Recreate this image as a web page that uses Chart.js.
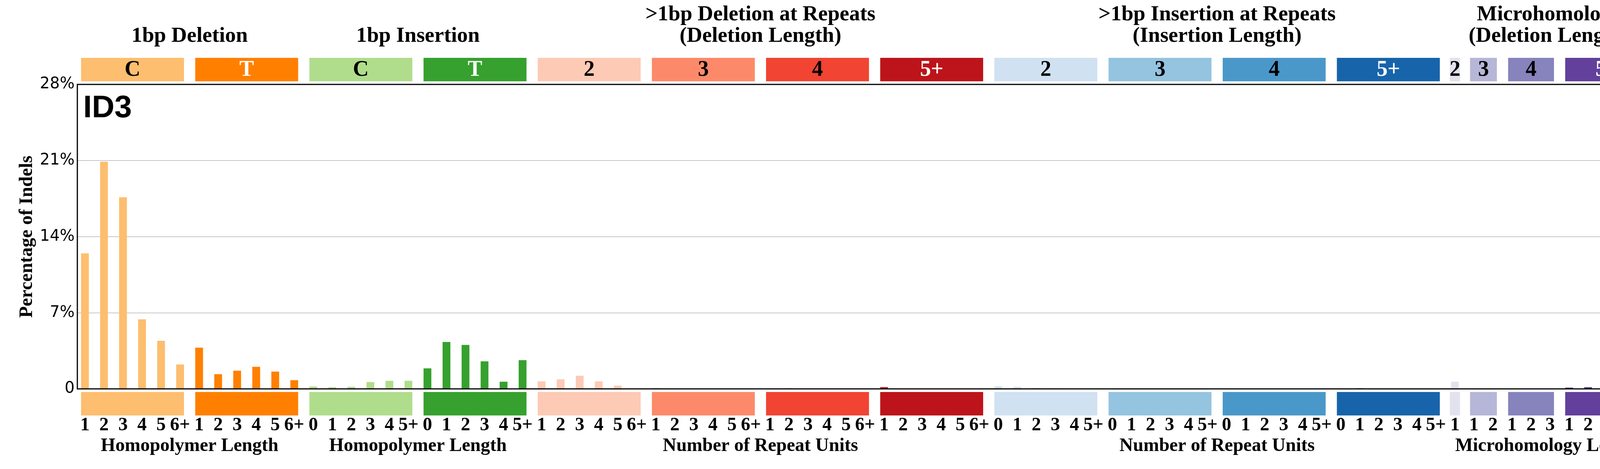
<!DOCTYPE html>
<html>
<head>
<meta charset="utf-8">
<script src="https://cdn.jsdelivr.net/npm/chart.js@4"></script>
<style>
	html, body { margin: 0; background: #fff; overflow: hidden; }
	canvas { display: block; }
</style>
</head>
<body>
<canvas id="chart" width="4393" height="1200" style="width:4393px;height:1200px"></canvas>
<script>
// values in % of indels, one small array per context group
const delC = [12.46, 20.89, 17.62, 6.40, 4.42, 2.25];
const delT = [3.79, 1.35, 1.67, 2.03, 1.59, 0.80];
const insC = [0.22, 0.16, 0.19, 0.63, 0.74, 0.74];
const insT = [1.89, 4.31, 4.04, 2.53, 0.66, 2.64];
const delRep2 = [0.69, 0.88, 1.21, 0.69, 0.30, 0];
const delRep3 = [0.06, 0.02, 0, 0, 0, 0];
const delRep4 = [0, 0.05, 0, 0, 0, 0];
const delRep5 = [0.16, 0, 0, 0, 0, 0];
const insRep2 = [0.23, 0.19, 0.08, 0.05, 0.02, 0];
const insRep3 = [0, 0.03, 0, 0, 0, 0];
const insRep4 = [0, 0, 0, 0, 0, 0];
const insRep5 = [0, 0.05, 0, 0, 0, 0];
const mh2 = [0.66];
const mh3 = [0.02, 0.02];
const mh4 = [0, 0.02, 0];
const mh5 = [0.12, 0.16, 0.05, 0.05, 0.02];

const groupValues = [delC, delT, insC, insT, delRep2, delRep3, delRep4, delRep5,
	insRep2, insRep3, insRep4, insRep5, mh2, mh3, mh4, mh5];

const groupNames = ["C", "T", "C", "T", "2", "3", "4", "5+", "2", "3", "4", "5+", "2", "3", "4", "5+"];
const groupColors = ["#FDBE6F", "#FF8001", "#B0DD8B", "#36A12E",
	"#FDCAB5", "#FC8A6A", "#F14432", "#BC141A",
	"#D0E1F2", "#94C4DF", "#4A98C9", "#1764AB",
	"#E2E2EF", "#B6B6D8", "#8683BD", "#62409B"];
const groupTextColors = ["#000", "#fff", "#000", "#fff",
	"#000", "#000", "#000", "#fff",
	"#000", "#000", "#000", "#fff",
	"#000", "#000", "#000", "#fff"];

const tickDel = ["1", "2", "3", "4", "5", "6+"];
const tickIns = ["0", "1", "2", "3", "4", "5+"];
const groupTicks = [tickDel, tickDel, tickIns, tickIns,
	tickDel, tickDel, tickDel, tickDel,
	tickIns, tickIns, tickIns, tickIns,
	["1"], ["1", "2"], ["1", "2", "3"], ["1", "2", "3", "4", "5+"]];

// [first group, last group, lines]
const sectionTitles = [
	[0, 1, ["1bp Deletion"]],
	[2, 3, ["1bp Insertion"]],
	[4, 7, [">1bp Deletion at Repeats", "(Deletion Length)"]],
	[8, 11, [">1bp Insertion at Repeats", "(Insertion Length)"]],
	[12, 15, ["Microhomology", "(Deletion Length)"]]
];
const axisTitles = [
	[0, 1, "Homopolymer Length"],
	[2, 3, "Homopolymer Length"],
	[4, 7, "Number of Repeat Units"],
	[8, 11, "Number of Repeat Units"],
	[12, 15, "Microhomology Length"]
];

const yTicks = [0, 7, 14, 21, 28];
const signatureName = "ID3";

const values = groupValues.flat();
const channelIndex = values.map((v, i) => i);
const barColors = groupValues.flatMap((g, i) => g.map(() => groupColors[i]));

const serif = "'Liberation Serif', 'Times New Roman', serif";

const decor = {
	id: "decor",
	afterDraw(chart) {
		const { ctx, chartArea: a } = chart;
		const bars = chart.getDatasetMeta(0).data;
		const spans = [];
		let start = 0;
		groupValues.forEach((g) => {
			const first = bars[start];
			const last = bars[start + g.length - 1];
			let x0 = first.x - first.width / 2;
			let x1 = last.x + last.width / 2;
			if (x1 - x0 < 26) {
				const c = (x0 + x1) / 2;
				x0 = c - 13;
				x1 = c + 13;
			}
			spans.push({ x0, x1, start });
			start += g.length;
		});

		ctx.save();
		ctx.strokeStyle = "#000";
		ctx.lineWidth = 3;
		ctx.strokeRect(a.left, a.top, a.right - a.left, a.bottom - a.top);

		ctx.textAlign = "center";
		spans.forEach((s, i) => {
			ctx.fillStyle = groupColors[i];
			ctx.fillRect(s.x0, a.top - 68, s.x1 - s.x0, 60);
			ctx.fillRect(s.x0, a.bottom + 8, s.x1 - s.x0, 60);

			ctx.fillStyle = groupTextColors[i];
			ctx.font = "bold 56px " + serif;
			ctx.textBaseline = "middle";
			ctx.fillText(groupNames[i], (s.x0 + s.x1) / 2, a.top - 36);

			ctx.fillStyle = "#000";
			ctx.font = "bold 48px " + serif;
			ctx.textBaseline = "alphabetic";
			groupTicks[i].forEach((t, k) => {
				ctx.fillText(t, bars[s.start + k].x, a.bottom + 106);
			});
		});

		ctx.fillStyle = "#000";
		ctx.font = "bold 55px " + serif;
		sectionTitles.forEach(([g0, g1, lines]) => {
			const cx = (spans[g0].x0 + spans[g1].x1) / 2;
			const baseY = a.top - 109 - (lines.length - 1) * 55;
			lines.forEach((line, k) => ctx.fillText(line, cx, baseY + k * 55));
		});

		ctx.font = "bold 48px " + serif;
		axisTitles.forEach(([g0, g1, text]) => {
			ctx.fillText(text, (spans[g0].x0 + spans[g1].x1) / 2, a.bottom + 159);
		});

		ctx.textAlign = "left";
		ctx.font = "bold 80px 'Liberation Sans', Arial, sans-serif";
		ctx.fillText(signatureName, a.left + 15, a.top + 84);
		ctx.restore();
	}
};

new Chart(document.getElementById("chart"), {
	type: "bar",
	data: {
		labels: channelIndex,
		datasets: [{
			data: values,
			backgroundColor: barColors,
			barPercentage: 0.41,
			categoryPercentage: 1
		}]
	},
	options: {
		responsive: false,
		animation: false,
		devicePixelRatio: 1,
		layout: { padding: { top: 216, right: 153, bottom: 205, left: 0 } },
		plugins: { legend: { display: false }, tooltip: { enabled: false } },
		scales: {
			x: { type: "linear", min: -0.4, max: 82.58, offset: false, display: false },
			y: {
				min: 0,
				max: 28,
				afterBuildTicks: (scale) => { scale.ticks = yTicks.map((v) => ({ value: v })); },
				afterFit: (scale) => { scale.width = 198; },
				ticks: {
					callback: (v) => (v === 0 ? "0" : v + "%"),
					font: { family: "'DejaVu Sans', sans-serif", size: 40 },
					color: "#000",
					padding: 7
				},
				grid: { color: "#a8a8a8", lineWidth: 1.2, drawTicks: false },
				border: { display: false },
				title: {
					display: true,
					text: "Percentage of Indels",
					font: { family: serif, size: 48, weight: "bold" },
					color: "#000",
					padding: { top: 41, bottom: 0 }
				}
			}
		}
	},
	plugins: [decor]
});
</script>
</body>
</html>
